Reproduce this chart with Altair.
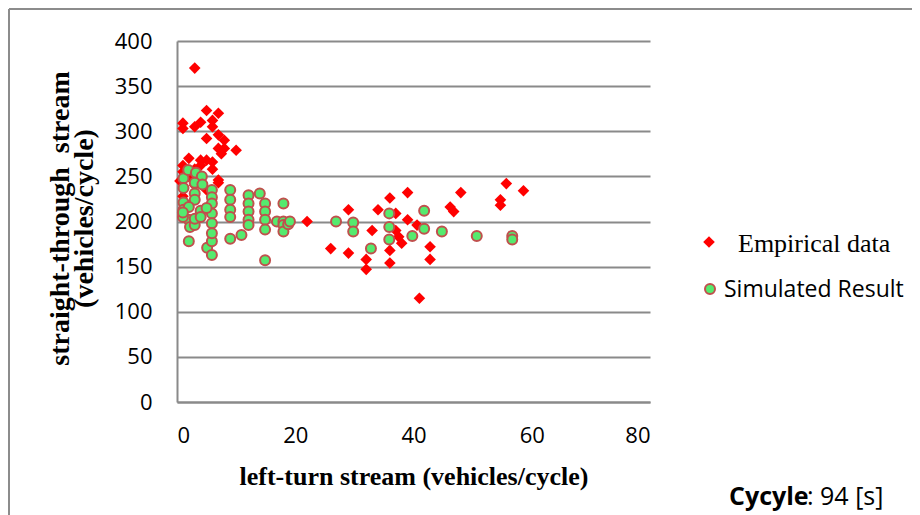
import altair as alt
import pandas as pd

# Empirical data (red diamonds)
emp_x = [3, 5, 7, 1, 1, 3, 4, 6, 6, 5, 7, 8, 7, 8, 10, 7.5, 2, 4, 5, 6, 1, 4, 6, 3,
         7, 7, 1, 2, 0.5, 3, 5, 1,
         22, 29, 26, 29, 32, 32, 34, 33, 36, 39, 37, 39, 36, 36, 37, 37.5, 38, 41,
         40.6, 48, 46.2, 46.8, 55.7, 58.6, 54.7, 54.7, 42.8, 42.8]
emp_y = [370, 323, 320, 309, 303, 305, 310, 312, 305, 292, 296, 290, 281, 281, 279, 275,
         270, 268, 268, 266, 262, 262, 258, 258, 246, 243, 255, 250, 245, 240, 235, 228,
         200, 213, 170, 165, 158, 147, 213, 190, 226, 232, 209, 202, 168, 154, 190, 183,
         176, 115, 196, 232, 216, 211, 242, 234, 224, 218, 172, 158]

# Simulated result (green circles)
sim_x = [1.1, 1.1, 1.1, 1.1, 1.9, 3.2, 4.2, 3.0, 4.3, 3, 3, 2, 2, 2.2, 3, 3, 2,
         5.9, 5.9, 5.9, 5.9, 5.9, 5.1, 5.9, 5.9, 5.9,
         9, 9, 9, 9, 9, 10.9, 12.1, 12.1, 12.1, 12.1, 12.1, 14, 14.9, 14.9, 14.9, 14.9, 14.9,
         16.9, 18, 18, 18, 18, 18.8, 19.1, 1, 1, 4, 4, 5,
         26.9, 29.8, 29.8, 32.8, 35.9, 35.9, 35.9, 39.8, 41.8, 41.8, 44.8, 50.7, 56.7, 56.7]
sim_y = [248, 237, 221, 213, 257, 254, 250, 243, 241, 231, 224, 216, 202, 194, 196, 203, 178,
         235, 227, 220, 209, 198, 171, 178, 187, 163,
         235, 224, 213, 205, 181, 185, 229, 220, 211, 202, 196, 231, 220, 211, 202, 191, 157,
         200, 220, 200, 196, 189, 197, 200, 205, 210, 212, 205, 215,
         200, 199, 189, 170, 209, 194, 180, 184, 212, 192, 189, 184, 184, 180]

x_ticks = [0, 20, 40, 60, 80]
y_ticks = [0, 50, 100, 150, 200, 250, 300, 350, 400]

emp = pd.DataFrame({"x": emp_x, "y": emp_y})
sim = pd.DataFrame({"x": sim_x, "y": sim_y})
one = pd.DataFrame({"a": [0]})

W, H = 473, 361
SANS = "Open Sans"
SERIF = "Liberation Serif"

xs = alt.X("x:Q", scale=alt.Scale(domain=[0, 80], nice=False),
           axis=alt.Axis(values=x_ticks, grid=False, ticks=False, domainColor="#8a8a8a",
                         domainWidth=2, labelFont=SANS, labelFontSize=22, labelColor="#000",
                         labelPadding=23, title="left-turn stream (vehicles/cycle)",
                         titleFont=SERIF, titleFontSize=26, titleFontWeight="bold",
                         titleColor="#000", titlePadding=17))
ys = alt.Y("y:Q", scale=alt.Scale(domain=[0, 400], nice=False),
           axis=alt.Axis(values=y_ticks, grid=True, gridColor="#8a8a8a", gridWidth=2,
                         ticks=False, domainColor="#8a8a8a", domainWidth=2,
                         labelFont=SANS, labelFontSize=22, labelColor="#000", labelPadding=25,
                         title=["straight-through\u00a0\u00a0stream", "(vehicles/cycle)"],
                         titleFont=SERIF, titleFontSize=28, titleFontWeight="bold",
                         titleColor="#000", titleX=-117, titleY=177, titleAlign="center",
                         titleBaseline="middle", titleLineHeight=24))

red = alt.Chart(emp).mark_point(shape="diamond", filled=True, color="#ff0000",
                                size=135, opacity=1).encode(x=xs, y=ys)
green = alt.Chart(sim).mark_circle(size=100, color="#55ea6e", stroke="#c0504d",
                                   strokeWidth=2, opacity=1).encode(x="x:Q", y="y:Q")

frame_l = alt.Chart(one).mark_rule(color="#8c8c8c", strokeWidth=2).encode(
    x=alt.value(-168), x2=alt.value(-168), y=alt.value(-32), y2=alt.value(480))
frame_t = alt.Chart(one).mark_rule(color="#8c8c8c", strokeWidth=2).encode(
    x=alt.value(-168), x2=alt.value(745), y=alt.value(-32), y2=alt.value(-32))

leg_d = alt.Chart(one).mark_point(shape="diamond", filled=True, color="#ff0000",
                                  size=135, opacity=1).encode(x=alt.value(532), y=alt.value(201))
leg_c = alt.Chart(one).mark_circle(size=100, color="#55ea6e", stroke="#c0504d",
                                   strokeWidth=2, opacity=1).encode(x=alt.value(533), y=alt.value(248))
leg_t1 = alt.Chart(one).mark_text(text="Empirical data", font=SERIF, fontSize=26,
                                  align="left", baseline="middle", color="#000").encode(
    x=alt.value(561), y=alt.value(203))
leg_t2 = alt.Chart(one).mark_text(text="Simulated Result", font=SANS, fontSize=23,
                                  align="left", baseline="middle", color="#000").encode(
    x=alt.value(547), y=alt.value(249))

cyc1 = alt.Chart(one).mark_text(text="Cycyle", font=SANS, fontSize=25, fontWeight="bold",
                                align="left", baseline="alphabetic", color="#000").encode(
    x=alt.value(552), y=alt.value(464))
cyc2 = alt.Chart(one).mark_text(text=": 94 [s]", font=SANS, fontSize=25,
                                align="left", baseline="alphabetic", color="#000").encode(
    x=alt.value(630), y=alt.value(464))

chart = alt.layer(red, green, frame_l, frame_t, leg_d, leg_c, leg_t1, leg_t2, cyc1, cyc2).properties(
    width=W, height=H,
    autosize=alt.AutoSizeParams(type="none"),
    padding={"left": 169, "top": 33, "right": 262, "bottom": 113},
    background="white",
).configure_view(stroke=None)

chart.save("out.html", embed_options={"renderer": "svg", "actions": False})
